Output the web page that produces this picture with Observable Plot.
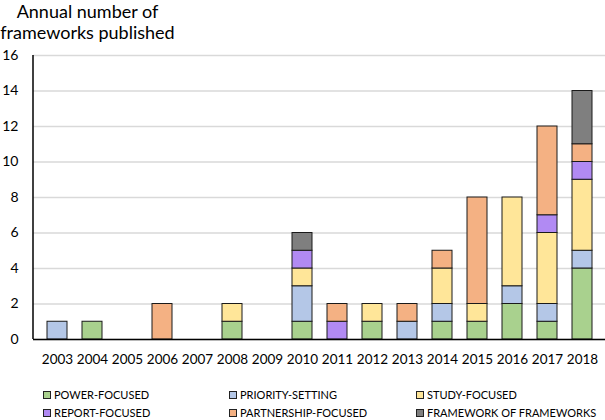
<!DOCTYPE html>
<html>
<head>
<meta charset="utf-8">
<script src="https://cdn.jsdelivr.net/npm/d3@7"></script>
<script src="https://cdn.jsdelivr.net/npm/@observablehq/plot@0.6"></script>
<style>
  html, body { margin: 0; padding: 0; background: #fff; }
  body { width: 605px; height: 420px; overflow: hidden; font-family: Lato, "Open Sans", sans-serif; color: #000; }
  #title { position: relative; height: 45px; }
  #title div { position: absolute; left: 0; width: 175px; text-align: center; font-size: 18px; line-height: 20px; white-space: nowrap; }
  #legend { position: relative; height: 50px; }
  .item { position: absolute; font-size: 11px; line-height: 12px; white-space: nowrap; display: flex; align-items: center; }
  .sw { display: inline-block; width: 6px; height: 6px; border: 1px solid #222; margin-right: 3px; }
</style>
</head>
<body>
<div id="title"><div style="top:1px">Annual number of</div><div style="top:22px">frameworks published</div></div>
<div id="chart"></div>
<div id="legend"></div>
<script>
const years = ["2003","2004","2005","2006","2007","2008","2009","2010","2011","2012","2013","2014","2015","2016","2017","2018"];
const categories = ["POWER-FOCUSED","PRIORITY-SETTING","STUDY-FOCUSED","REPORT-FOCUSED","PARTNERSHIP-FOCUSED","FRAMEWORK OF FRAMEWORKS"];
const colors = ["#a9d18e","#b4c7e7","#ffe699","#b18af3","#f4b183","#7f7f7f"];
const powerFocused        = [0,1,0,0,0,1,0,1,0,1,0,1,1,2,1,4];
const prioritySetting     = [1,0,0,0,0,0,0,2,0,0,1,1,0,1,1,1];
const studyFocused        = [0,0,0,0,0,1,0,1,0,1,0,2,1,5,4,4];
const reportFocused       = [0,0,0,0,0,0,0,1,1,0,0,0,0,0,1,1];
const partnershipFocused  = [0,0,0,2,0,0,0,0,1,0,1,1,6,0,5,1];
const frameworkOfFrameworks = [0,0,0,0,0,0,0,1,0,0,0,0,0,0,0,3];
const yTicks = [0,2,4,6,8,10,12,14,16];

const series = [powerFocused, prioritySetting, studyFocused, reportFocused, partnershipFocused, frameworkOfFrameworks];
const rows = [];
series.forEach((vals, i) => vals.forEach((v, j) => { if (v > 0) rows.push({year: years[j], category: categories[i], value: v}); }));

// left axis line drawn from the y scale
function leftAxisLine(index, scales, values, dims) {
  const g = d3.create("svg:g");
  g.append("line")
    .attr("x1", dims.marginLeft).attr("x2", dims.marginLeft)
    .attr("y1", scales.y(yTicks[0])).attr("y2", scales.y(yTicks[yTicks.length - 1]))
    .attr("stroke", "#000").attr("stroke-width", 1.5);
  return g.node();
}

const chart = Plot.plot({
  width: 605,
  height: 325,
  marginLeft: 33,
  marginRight: 0,
  marginTop: 10,
  marginBottom: 31,
  style: {fontFamily: "Lato, 'Open Sans', sans-serif", fontSize: "13.5px", color: "#000", background: "#fff", overflow: "visible"},
  x: {domain: years, paddingInner: 0.44, paddingOuter: 0.22, label: null},
  y: {domain: [0, 16], label: null},
  color: {domain: categories, range: colors},
  marks: [
    Plot.gridY(yTicks, {stroke: "#d9d9d9", strokeOpacity: 1, strokeWidth: 1.5}),
    Plot.axisY(yTicks, {tickSize: 0, tickPadding: 15, fontSize: 14, label: null}),
    Plot.axisX({tickSize: 0, tickPadding: 15, label: null}),
    Plot.barY(rows, Plot.stackY({x: "year", y: "value", fill: "category", stroke: "#1a1a1a", strokeWidth: 1, order: categories})),
    Plot.ruleY([0], {stroke: "#000", strokeWidth: 1.5}),
    leftAxisLine
  ]
});
document.getElementById("chart").appendChild(chart);

const legendPos = [[43,25],[229,25],[416,25],[43,43],[229,43],[416,43]];
const legend = document.getElementById("legend");
categories.forEach((c, i) => {
  const d = document.createElement("div");
  d.className = "item";
  d.style.left = legendPos[i][0] + "px";
  d.style.top = (legendPos[i][1] - 6) + "px";
  d.innerHTML = `<span class="sw" style="background:${colors[i]}"></span>${c}`;
  legend.appendChild(d);
});
</script>
</body>
</html>
